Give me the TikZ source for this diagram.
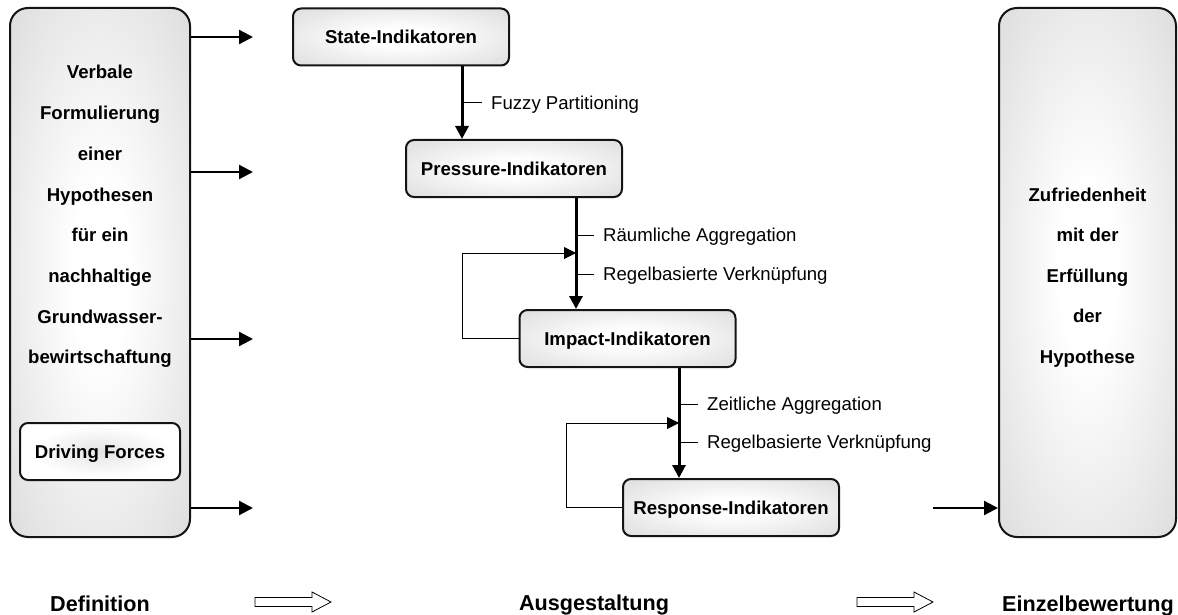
\documentclass[tikz,border=0pt]{standalone}
\usepackage{fontspec}
\setmainfont{Liberation Sans}
\usetikzlibrary{arrows.meta}
\definecolor{shadegray}{RGB}{216,216,216}
\definecolor{edge}{RGB}{20,20,20}
\pgfdeclareradialshading{boxshade}{\pgfpoint{0bp}{0bp}}{color(0bp)=(white); color(8bp)=(white); color(40bp)=(shadegray); color(50bp)=(shadegray)}
\pgfdeclareradialshading{dfshade}{\pgfpoint{0bp}{0bp}}{color(0bp)=(shadegray!70!white); color(22bp)=(white); color(50bp)=(white)}
\begin{document}
\begin{tikzpicture}[x=1pt,y=-1pt,
  bigbox/.style={draw=edge, line width=2pt, rounded corners=18pt, shading=boxshade, minimum width=#1, minimum height=529pt, inner sep=0pt},
  indbox/.style={draw=edge, line width=2pt, rounded corners=8pt, shading=boxshade, minimum width=216pt, minimum height=57pt, inner sep=0pt,
    font=\fontsize{18.6}{22}\selectfont\bfseries, text height=13.3pt, text depth=0pt},
  dfbox/.style={draw=edge, line width=2pt, rounded corners=8pt, shading=dfshade, minimum width=160pt, minimum height=57pt, inner sep=0pt,
    font=\fontsize{18.6}{22}\selectfont\bfseries, text height=13.3pt, text depth=0pt},
  boxline/.style={anchor=base, inner sep=0pt, font=\fontsize{18.6}{22}\selectfont\bfseries},
  lbl/.style={anchor=west, inner xsep=9pt, inner ysep=0pt, font=\fontsize{18.6}{22}\selectfont, text height=13.3pt, text depth=0pt},
  phase/.style={anchor=base, inner sep=0pt, font=\fontsize{21.6}{26}\selectfont\bfseries},
  sidearrow/.style={line width=2.3pt, -{Triangle[length=14pt,width=14pt]}},
  mainarrow/.style={line width=3pt, -{Triangle[length=13pt,width=13pt]}},
  fbarrow/.style={line width=1pt, -{Triangle[length=12pt,width=12pt]}},
  tickline/.style={line width=1pt},
  hollow/.style={draw=black, line width=0.8pt, fill=white, line join=miter}
]
\useasboundingbox (0,0) rectangle (1178,615);

% big side boxes
\node[bigbox=180pt] (LB) at (100,272.5) {};
\node[bigbox=177pt] (RB) at (1087.5,272.5) {};

% left box text
\foreach \t [count=\i] in {Verbale,Formulierung,einer,Hypothesen,f\"ur ein,nachhaltige,Grundwasser-,bewirtschaftung}
  \node[boxline] (L\i) at (100,{79+40.7*(\i-1)}) {\t};
\node[dfbox] (DF) at (100,451.5) {Driving Forces};

% right box text
\foreach \t [count=\i] in {Zufriedenheit,mit der,Erf\"ullung,der,Hypothese}
  \node[boxline] (R\i) at (1087.5,{201+40.6*(\i-1)}) {\t};

% indicator boxes
\node[indbox] (S) at (401,37) {State-Indikatoren};
\node[indbox] (P) at (514,168.5) {Pressure-Indikatoren};
\node[indbox] (I) at (627.5,338.5) {Impact-Indikatoren};
\node[indbox] (Re) at (731,507.5) {Response-Indikatoren};

% arrows from left box
\coordinate (e1) at (253,37);
\coordinate (e2) at (253,172);
\coordinate (e3) at (253,339);
\coordinate (e4) at (253,508);
\foreach \k in {1,2,3,4}
  \draw[sidearrow] (LB.east |- e\k) -- (e\k);

% arrow into right box
\coordinate (r0) at (933,508);
\draw[sidearrow] (r0) -- (RB.west |- r0);

% main vertical arrows
\coordinate (a1) at (462,0);
\coordinate (a2) at (576,0);
\coordinate (a3) at (679,0);
\draw[mainarrow] (S.south -| a1) -- (P.north -| a1);
\draw[mainarrow] (P.south -| a2) -- (I.north -| a2);
\draw[mainarrow] (I.south -| a3) -- (Re.north -| a3);

% labels with ticks
\node[lbl] (F1) at (482,103) {Fuzzy Partitioning};
\draw[tickline] (F1.west -| a1) -- (F1.west);
\node[lbl] (F2) at (594,235) {R\"aumliche Aggregation};
\draw[tickline] (F2.west -| a2) -- (F2.west);
\node[lbl] (F3) at (594,274) {Regelbasierte Verkn\"upfung};
\draw[tickline] (F3.west -| a2) -- (F3.west);
\node[lbl] (F4) at (698,404) {Zeitliche Aggregation};
\draw[tickline] (F4.west -| a3) -- (F4.west);
\node[lbl] (F5) at (698,442) {Regelbasierte Verkn\"upfung};
\draw[tickline] (F5.west -| a3) -- (F5.west);

% feedback loops
\coordinate (fb1) at (462,253);
\draw[fbarrow] (I.west) -| (fb1) -- (fb1 -| a2);
\coordinate (fb2) at (566,423);
\draw[fbarrow] (Re.west) -| (fb2) -- (fb2 -| a3);

% phase labels
\node[phase] (D) at (100,611) {Definition};
\node[phase] (A) at (594,610) {Ausgestaltung};
\node[phase] (E) at (1088,611) {Einzelbewertung};

% hollow arrows
\foreach \dx in {0,602}
  \draw[hollow, shift={(\dx,0)}] (255,597.5) -- (312,597.5) -- (312,592) -- (331,602) -- (312,612) -- (312,606.5) -- (255,606.5) -- cycle;
\end{tikzpicture}
\end{document}
